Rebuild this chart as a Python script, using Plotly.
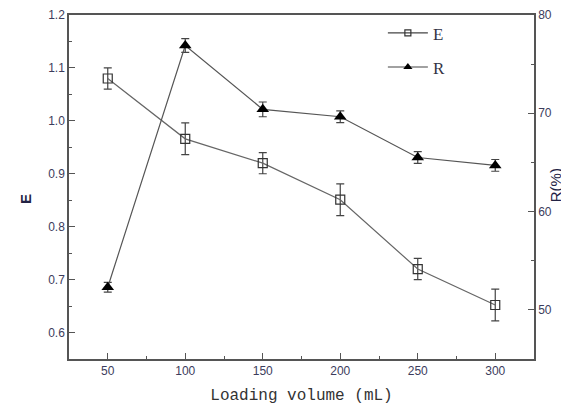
import plotly.graph_objects as go

volume = [50, 100, 150, 200, 250, 300]
E_vals = [1.08, 0.966, 0.92, 0.851, 0.72, 0.652]
E_err = [0.02, 0.03, 0.02, 0.03, 0.02, 0.03]
R_vals = [52.3, 76.9, 70.4, 69.65, 65.5, 64.7]
R_err = [0.5, 0.7, 0.75, 0.6, 0.6, 0.6]

tick_font = dict(family="Liberation Sans, Arial, sans-serif", size=12, color="#3c3c5c")
line_col = "#555555"

fig = go.Figure()
fig.add_trace(go.Scatter(
    x=volume, y=E_vals, name="E", mode="lines+markers", showlegend=False,
    line=dict(color="#666666", width=1.2),
    marker=dict(symbol="square-open", size=9, color="#333333", line=dict(width=1.2)),
    error_y=dict(type="data", array=E_err, color="#444444", thickness=1.2, width=4),
    yaxis="y"))
fig.add_trace(go.Scatter(
    x=volume, y=R_vals, name="R", mode="lines+markers", showlegend=False,
    line=dict(color="#555555", width=1.2),
    marker=dict(symbol="triangle-up", size=11, color="black"),
    error_y=dict(type="data", array=R_err, color="#444444", thickness=1.2, width=4),
    yaxis="y2"))
# legend entries (smaller symbols, as in the reference legend)
fig.add_trace(go.Scatter(
    x=[None], y=[None], name="E", mode="lines+markers", legendgroup="e",
    line=dict(color="#444444", width=1.2),
    marker=dict(symbol="square-open", size=6, color="#333333", line=dict(width=1.2))))
fig.add_trace(go.Scatter(
    x=[None], y=[None], name="R", mode="lines+markers", legendgroup="r",
    line=dict(color="#444444", width=1.2),
    marker=dict(symbol="triangle-up", size=8, color="black")))

common = dict(showline=True, linecolor=line_col, linewidth=1.5, ticks="inside",
              ticklen=6, tickcolor=line_col, showgrid=False, zeroline=False,
              tickfont=tick_font, automargin=False)

fig.update_layout(
    template="none",
    width=561, height=401,
    margin=dict(l=61, r=35, t=7, b=50),
    paper_bgcolor="white", plot_bgcolor="white",
    showlegend=True,
    legend=dict(x=0.675, y=0.999, xanchor="left", yanchor="top",
                font=dict(family="Liberation Serif, Times New Roman, serif", size=17, color="#333344"),
                bgcolor="rgba(0,0,0,0)", traceorder="grouped", tracegroupgap=9, itemwidth=40),
    xaxis=dict(range=[25, 325], tickvals=[50, 100, 150, 200, 250, 300],
               mirror=True,
               minor=dict(ticks="inside", ticklen=3, tickcolor=line_col, dtick=25, tick0=25),
               title=dict(text="Loading volume (mL)",
                          font=dict(family="Liberation Mono, Courier New, monospace", size=16, color="#333333"),
                          standoff=12),
               **common),
    yaxis=dict(range=[0.55, 1.2], tickvals=[0.6, 0.7, 0.8, 0.9, 1.0, 1.1, 1.2],
               ticktext=["0.6", "0.7", "0.8", "0.9", "1.0", "1.1", "1.2"],
               minor=dict(ticks="inside", ticklen=3, tickcolor=line_col, dtick=0.05, tick0=0.55),
               **common),
    yaxis2=dict(range=[45, 80], tickvals=[50, 60, 70, 80], overlaying="y", side="right",
                minor=dict(ticks="inside", ticklen=3, tickcolor=line_col, dtick=5, tick0=45),
                **common),
    annotations=[
        dict(text="<b>E</b>", xref="paper", yref="paper", x=-44/465, y=0.465,
             showarrow=False, textangle=-90, xanchor="center", yanchor="middle",
             font=dict(family="Liberation Sans, Arial, sans-serif", size=15, color="#222244")),
        dict(text="R(%)", xref="paper", yref="paper", x=1.048, y=0.506,
             showarrow=False, textangle=-90, xanchor="center", yanchor="middle",
             font=dict(family="Liberation Sans, Arial, sans-serif", size=15, color="#222244")),
    ],
)

fig.write_html("out.html")
